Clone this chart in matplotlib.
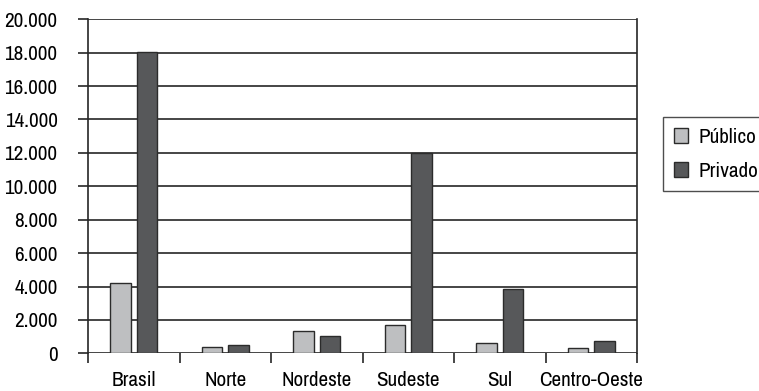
import numpy as np
import matplotlib
matplotlib.use("Agg")
import matplotlib.pyplot as plt
from matplotlib import font_manager as fm
from matplotlib.ticker import FixedLocator, FuncFormatter

# narrow sans face if one is installed, else DejaVu condensed
faces = fm.fontManager.ttflist
narrow = [f.name for f in faces if "Narrow" in f.name or "Condensed" in f.name]
narrow += [f.name for f in faces if str(f.stretch) in ("condensed", "semi-condensed", "extra-condensed")]
plt.rcParams['font.family'] = (narrow[:1] or []) + ['DejaVu Sans']
plt.rcParams['font.stretch'] = 'condensed'
plt.rcParams['font.weight'] = 'light'

regioes = ["Brasil", "Norte", "Nordeste", "Sudeste", "Sul", "Centro-Oeste"]
publico = [4230, 360, 1340, 1700, 600, 320]
privado = [18050, 500, 1020, 12000, 3870, 760]

GRID = "#262626"
C_PUB = "#bebfc1"
C_PRIV = "#57585a"
FS = 15.2

fig = plt.figure(figsize=(7.59, 3.91), dpi=100)
ax = fig.add_axes([88 / 759, 1 - 353.3 / 391, (637 - 88) / 759, (353.3 - 19.3) / 391])

x = np.arange(len(regioes))
w, off = 0.22, 0.145
ax.bar(x - off, publico, w, color=C_PUB, edgecolor="#2b2b2b", lw=1.0, zorder=3, label="Público")
ax.bar(x + off, privado, w, color=C_PRIV, edgecolor="#2b2b2b", lw=1.0, zorder=3, label="Privado")

ax.set_xlim(-0.5, len(regioes) - 0.5)
ax.set_ylim(0, 20000)
ax.set_yticks(np.arange(0, 20001, 2000))
ax.yaxis.set_major_formatter(FuncFormatter(lambda v, _: f"{int(v):,}".replace(",", ".")))
ax.yaxis.grid(True, color=GRID, lw=1.2, zorder=1)
ax.tick_params(axis="y", length=7.5, width=1.2, color=GRID, pad=14.5, labelsize=FS)

ax.set_xticks(x)
ax.set_xticklabels(regioes)
ax.xaxis.set_minor_locator(FixedLocator(np.arange(-0.5, len(regioes), 1.0)))
ax.tick_params(axis="x", which="major", length=0, pad=13, labelsize=FS)
ax.tick_params(axis="x", which="minor", length=7.5, width=1.2, color=GRID)

for s in ("top", "bottom"):
    ax.spines[s].set_visible(False)
for s in ("left", "right"):
    ax.spines[s].set_color(GRID)
    ax.spines[s].set_linewidth(1.2)

leg = fig.legend(loc="upper left", bbox_to_anchor=(663 / 759, 1 - 117 / 391),
                 bbox_transform=fig.transFigure, fontsize=FS, frameon=True, fancybox=False,
                 handlelength=0.7, handleheight=0.7, handletextpad=0.5,
                 labelspacing=0.72, borderpad=0.5, borderaxespad=0)
leg.get_frame().set_edgecolor("#222222")
leg.get_frame().set_linewidth(1.0)

fig.savefig("out.png", dpi=100)
